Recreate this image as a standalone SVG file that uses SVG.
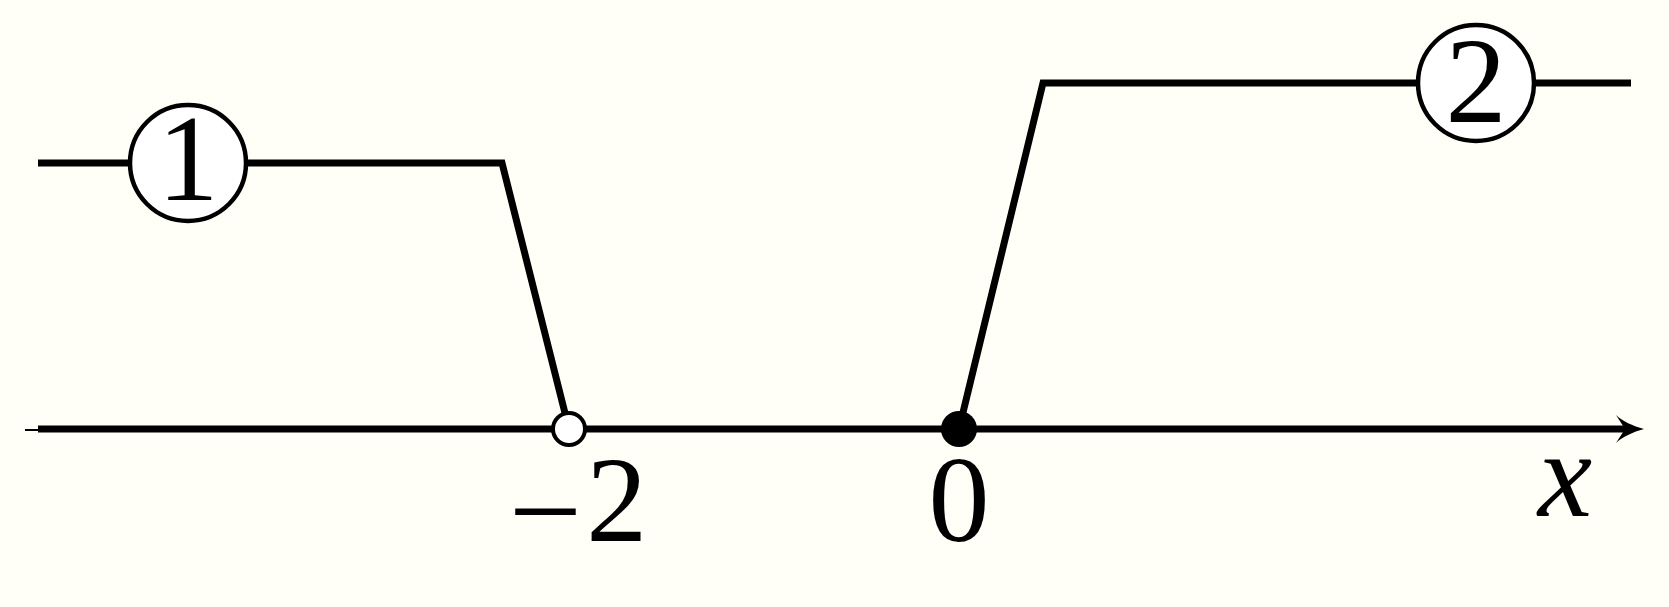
<svg xmlns="http://www.w3.org/2000/svg" width="1669" height="607" viewBox="0 0 1669 607">
<style>
.ln{fill:none;stroke:#000;stroke-width:7;stroke-linejoin:miter}
.lab{fill:#fff;stroke:#000;stroke-width:4.5}
.t{font-family:"Liberation Serif","DejaVu Serif",serif;font-size:122px;fill:#000;text-anchor:middle}
.it{font-style:italic}
</style>
<rect width="1669" height="607" fill="#FFFFF7"/>
<g id="axis">
<line x1="25" y1="430" x2="40" y2="430" stroke="#000" stroke-width="2"/>
<line class="ln" x1="38" y1="429" x2="1625" y2="429"/>
<path d="M1644,429 C1633,432 1622,437 1616,443 L1625,429 L1616,415 C1622,421 1633,426 1644,429 Z" fill="#000"/>
</g>
<g id="connectors">
<polyline class="ln" points="38,163 502,163 569,429"/>
<polyline class="ln" points="959,429 1043,83 1631,83"/>
</g>
<g id="node-1">
<circle class="lab" cx="188" cy="163" r="58"/>
<text class="t" x="188" y="200" font-size="108">1</text>
</g>
<g id="node-2">
<circle class="lab" cx="1476" cy="83" r="58"/>
<text class="t" x="1476" y="122" font-size="110">2</text>
</g>
<g id="point-m2">
<circle cx="569" cy="429" r="16" fill="#fff" stroke="#000" stroke-width="4"/>
</g>
<g id="point-0">
<circle cx="959" cy="429" r="18" fill="#000"/>
</g>
<g id="labels">
<text class="t" x="578" y="541"><tspan font-size="130" dy="14">−</tspan><tspan dx="4" dy="-14">2</tspan></text>
<text class="t" x="959" y="541">0</text>
<text class="t it" x="1565" y="516">x</text>
</g>
</svg>
